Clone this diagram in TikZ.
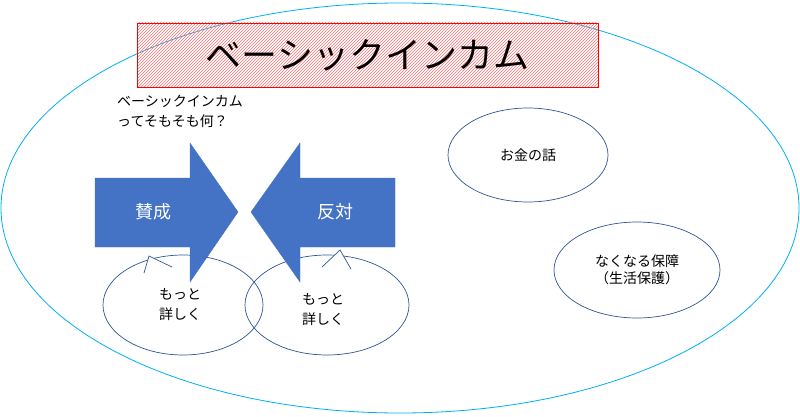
\documentclass[tikz,border=0pt]{standalone}
\usepackage{fontspec}
\setmainfont{Noto Sans CJK JP}
\usetikzlibrary{patterns,shapes.geometric}
\definecolor{sky}{RGB}{0,176,240}
\definecolor{blu}{RGB}{68,114,196}
\definecolor{ring}{RGB}{47,85,151}
\begin{document}
\begin{tikzpicture}[x=1pt,y=-1pt,
  bub/.style={ellipse,draw=ring,line width=0.7pt,inner sep=0pt,align=center,font=\fontsize{14}{17}\selectfont},
  arr/.style={fill=blu,draw=blu}]
\useasboundingbox (0,0) rectangle (800,417);
\draw[sky,line width=0.8pt] (400,208) ellipse [x radius=399,y radius=205];
\node[draw=red,fill=red!20,pattern=north east lines,pattern color=red!55,minimum width=461,minimum height=64,inner sep=0] (title) at (367.5,55) {};
\node (tt) at (367.5,55) {\fontsize{36}{40}\selectfont ベーシックインカム};
\node[align=left,anchor=north west,inner sep=0,font=\fontsize{14}{20}\selectfont] (q) at (117,95) {ベーシックインカム\\ってそもそも何？};
% callouts
\node[bub,minimum width=160,minimum height=100] (c1) at (183,305) {};
\fill[white] (144,273) -- (149,256) -- (172,267) -- cycle;
\draw[ring,line width=0.7pt] (144,273) -- (149,256) -- (172,267);
\node[bub,minimum width=164,minimum height=100] (c2) at (327,305) {};
\fill[white] (322,267) -- (340,250) -- (351,269) -- cycle;
\draw[ring,line width=0.7pt] (322,267) -- (340,250) -- (351,269);
\node[font=\fontsize{14}{20}\selectfont,align=center] (t1) at (180,305) {もっと\\詳しく};
\node[font=\fontsize{14}{20}\selectfont,align=center] (t2) at (323,310) {もっと\\詳しく};
% arrows
\draw[arr] (95,178) -- (190,178) -- (190,143) -- (238,212) -- (190,282) -- (190,247) -- (95,247) -- cycle;
\draw[arr] (395,178) -- (300,178) -- (300,143) -- (251,212) -- (300,282) -- (300,247) -- (395,247) -- cycle;
\node[white,font=\fontsize{18}{20}\selectfont] (a1) at (153,212) {賛成};
\node[white,font=\fontsize{18}{20}\selectfont] (a2) at (335,212) {反対};
\node[bub,minimum width=160,minimum height=94] (m) at (528,155) {お金の話};
\node[bub,minimum width=166,minimum height=96] (n) at (637,270) {なくなる保障\\（生活保護）};
\end{tikzpicture}
\end{document}
